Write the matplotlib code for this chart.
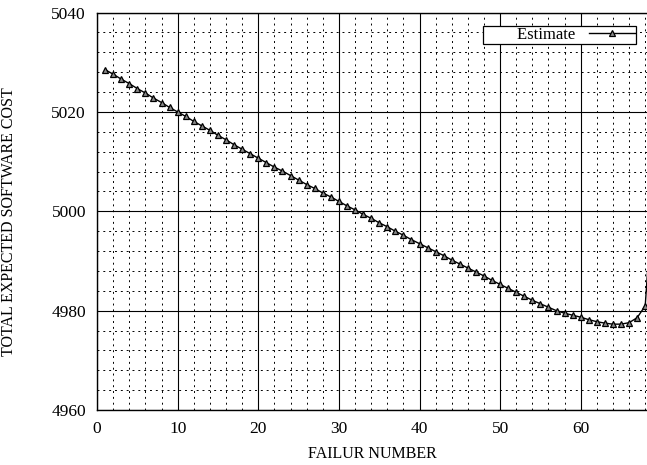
import matplotlib
matplotlib.use("Agg")
import matplotlib.pyplot as plt
from matplotlib.ticker import MultipleLocator

# failure number vs total expected software cost
failure = list(range(1, 70))
cost = [
    5028.5, 5027.6, 5026.6, 5025.7, 5024.7, 5023.8, 5022.8, 5021.9, 5020.9, 5020.0,
    5019.1, 5018.1, 5017.2, 5016.3, 5015.3, 5014.4, 5013.4, 5012.5, 5011.6, 5010.7,
    5009.8, 5008.9, 5008.1, 5007.2, 5006.3, 5005.4, 5004.6, 5003.7, 5002.9, 5002.0,
    5001.1, 5000.3, 4999.4, 4998.6, 4997.7, 4996.9, 4996.0, 4995.2, 4994.3, 4993.5,
    4992.7, 4991.9, 4991.1, 4990.2, 4989.4, 4988.6, 4987.8, 4987.0, 4986.1, 4985.3,
    4984.5, 4983.7, 4982.9, 4982.1, 4981.4, 4980.7, 4980.0, 4979.5, 4979.1, 4978.7,
    4978.2, 4977.8, 4977.5, 4977.3, 4977.3, 4977.6, 4978.6, 4981.0, 5005.0,
]
xticks = [0, 10, 20, 30, 40, 50, 60]
yticks = [4960, 4980, 5000, 5020, 5040]

plt.rcParams['font.family'] = ['Liberation Serif', 'DejaVu Serif']

fig = plt.figure(figsize=(6.47, 4.65), dpi=100)
ax = fig.add_axes([0.150, 0.118, 0.851, 0.855])

# the curve with triangles
ax.plot(failure, cost, color='black', linewidth=1.0, marker='^', markersize=5,
        markerfacecolor='#8a8a8a', markeredgecolor='black', markeredgewidth=0.9,
        label='Estimate')

ax.set_xlim(0, 68.3)
ax.set_ylim(4960, 5040)
ax.set_xticks(xticks)
ax.set_yticks(yticks)
ax.xaxis.set_minor_locator(MultipleLocator(2))
ax.yaxis.set_minor_locator(MultipleLocator(4))

# grid: solid major, dotted minor
ax.grid(which='major', color='black', linestyle='-', linewidth=0.8)
ax.grid(which='minor', color='black', linestyle=(0, (2, 4)), linewidth=0.7)
ax.set_axisbelow(True)

ax.tick_params(which='both', length=0, labelsize=12.5, pad=8)
ax.spines['right'].set_visible(False)
for s in ['left', 'bottom', 'top']:
    ax.spines[s].set_linewidth(1.0)

ax.set_xlabel("FAILUR NUMBER", fontsize=11.5, labelpad=6)
ax.set_ylabel("TOTAL EXPECTED SOFTWARE COST", fontsize=11.5)
ax.yaxis.set_label_coords(-0.145, 0.473)

leg = ax.legend(loc='upper right', markerfirst=False, fancybox=False, fontsize=12,
                edgecolor='black', framealpha=1, borderpad=0.05, handlelength=2.8,
                handletextpad=0.8, bbox_to_anchor=(0.994, 0.986))
leg.get_frame().set_linewidth(0.9)
leg.get_texts()[0].set_text('        Estimate')

fig.savefig("out.png", dpi=100)
